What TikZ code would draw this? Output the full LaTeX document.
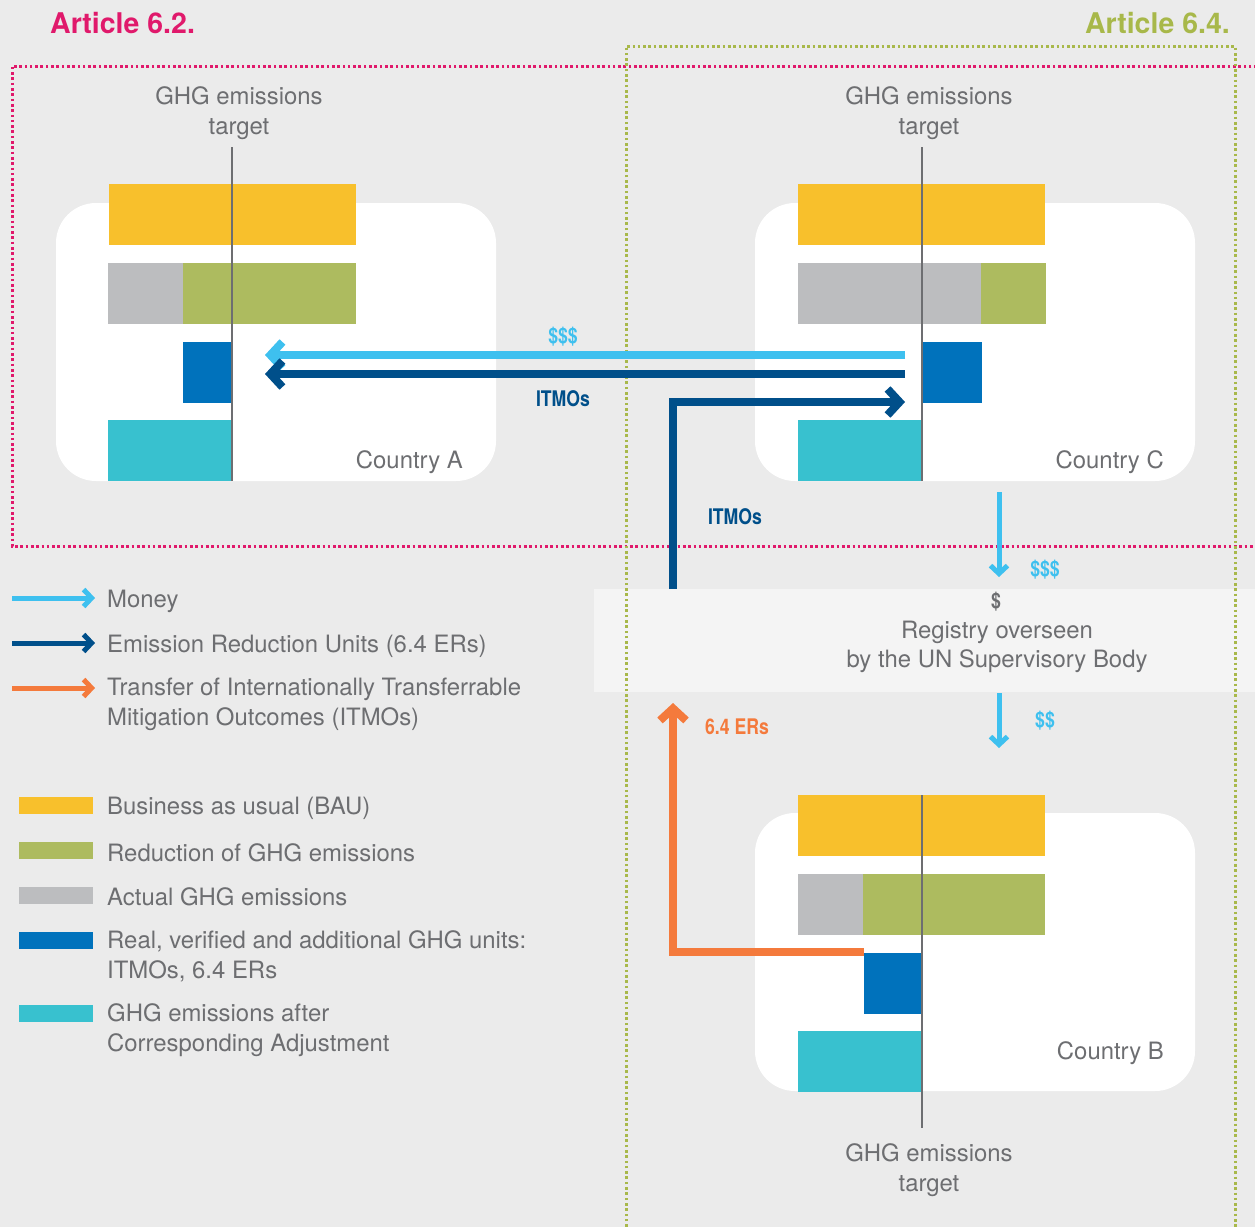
\documentclass[tikz,border=0pt]{standalone}
\usepackage{fontspec}
\setmainfont{TeX Gyre Heros}
\newfontfamily\condfont[FakeStretch=0.82]{TeX Gyre Heros}
\usetikzlibrary{arrows.meta}
\definecolor{bgc}{HTML}{EBEBEB}
\definecolor{regc}{HTML}{F4F4F4}
\definecolor{txtc}{HTML}{6D6E71}
\definecolor{yelc}{HTML}{F8C02C}
\definecolor{grnc}{HTML}{ADBB5F}
\definecolor{gryc}{HTML}{BCBDBF}
\definecolor{bluc}{HTML}{0072BC}
\definecolor{cyac}{HTML}{38C1CF}
\definecolor{monc}{HTML}{3EC0EF}
\definecolor{drkc}{HTML}{004F8A}
\definecolor{orac}{HTML}{F47A3C}
\definecolor{magc}{HTML}{E0196B}
\definecolor{artgc}{HTML}{A8B84A}
\definecolor{tgtc}{HTML}{6D6E71}
\tikzset{
  panel/.style={fill=white, rounded corners=40pt, inner sep=0pt, minimum width=440pt, minimum height=278pt},
  lbl/.style={text=txtc, font=\fontsize{23.9}{29.5}\selectfont, inner sep=0pt, align=center},
  leg/.style={text=txtc, font=\fontsize{23.9}{29.5}\selectfont, inner sep=0pt, align=left, anchor=west},
  cnd/.style={font=\condfont\bfseries\fontsize{21.5}{25}\selectfont, inner sep=0pt},
  bigarrow/.style={line width=8pt, -{Straight Barb[sharp,length=12pt,width=26pt]}},
  smallarrow/.style={line width=5pt, -{Straight Barb[sharp,length=8pt,width=17pt]}},
  tgtline/.style={draw=tgtc, line width=2.8pt},
  pinkdot/.style={draw=magc, line width=3pt, dash pattern=on 2.6pt off 2.7pt},
  greendot/.style={draw=artgc, line width=3pt, dash pattern=on 2.6pt off 2.7pt},
}
\begin{document}
\begin{tikzpicture}[x=1pt,y=-1pt]
\useasboundingbox (0,0) rectangle (1255,1227);
\fill[bgc] (0,0) rectangle (1255,1227);

% registry band
\node[fill=regc, inner sep=0pt, minimum width=661pt, minimum height=103pt] (reg) at (924.5,640.5) {};

% panels
\node[panel] (pa) at (276,342) {};
\node[panel] (pc) at (975,342) {};
\node[panel] (pb) at (975,952) {};

% Country A bars
\fill[yelc] (109,184) rectangle (356,245);
\fill[gryc] (108,263) rectangle (183,324);
\fill[grnc] (183,263) rectangle (356,324);
\fill[bluc] (183,342) rectangle (232,403);
\fill[cyac] (108,420) rectangle (232,481);
% Country C bars
\fill[yelc] (798,184) rectangle (1045,245);
\fill[gryc] (798,263) rectangle (981,324);
\fill[grnc] (981,263) rectangle (1046,324);
\fill[bluc] (922,342) rectangle (982,403);
\fill[cyac] (798,420) rectangle (922,481);
% Country B bars
\fill[yelc] (798,795) rectangle (1045,856);
\fill[gryc] (798,874) rectangle (863,935);
\fill[grnc] (863,874) rectangle (1045,935);
\fill[bluc] (864,953) rectangle (921,1014);
\fill[cyac] (798,1031) rectangle (921,1092);

% target lines
\coordinate (tA1) at (232,147); \coordinate (tA2) at (232,481);
\coordinate (tC1) at (922,147); \coordinate (tC2) at (922,481);
\coordinate (tB1) at (922,795); \coordinate (tB2) at (922,1128);
\draw[tgtline] (tA1) -- (tA2);
\draw[tgtline] (tC1) -- (tC2);
\draw[tgtline] (tB1) -- (tB2);

% dotted frames
\draw[pinkdot] (1262,66) -- (12,66) -- (12,546) -- (1262,546);
\draw[greendot] (626,1232) -- (626,46) -- (1235,46) -- (1235,1232);

% arrows
\coordinate (mC) at (905,355); \coordinate (mA) at (265,355);
\coordinate (iC) at (905,374); \coordinate (iA) at (265,374);
\draw[bigarrow, draw=monc] (mC) -- (mA);
\draw[bigarrow, draw=drkc] (iC) -- (iA);
\coordinate (rI) at (673,589); \coordinate (cI) at (905,402);
\draw[bigarrow, draw=drkc] (rI) |- (cI);
\coordinate (bO) at (864,952); \coordinate (rO) at (673,703);
\draw[bigarrow, draw=orac] (bO) -| (rO);
\coordinate (cM) at (999,492); \coordinate (rM1) at (999,577);
\draw[smallarrow, draw=monc] (cM) -- (rM1);
\coordinate (rM2) at (999,693); \coordinate (bM) at (999,748);
\draw[smallarrow, draw=monc] (rM2) -- (bM);

% titles
\node[anchor=west, inner sep=0pt, text=magc, font=\bfseries\fontsize{28.5}{32}\selectfont] (t62) at (50,23) {Article 6.2.};
\node[anchor=east, inner sep=0pt, text=artgc, font=\bfseries\fontsize{28.5}{32}\selectfont] (t64) at (1230,23) {Article 6.4.};

% labels
\node[lbl] (gA) at (239,113) {GHG emissions\\target};
\node[lbl] (gC) at (929,113) {GHG emissions\\target};
\node[lbl] (gB) at (929,1170) {GHG emissions\\target};
\node[lbl, anchor=east] (cA) at (463,462) {Country A};
\node[lbl, anchor=east] (cC) at (1164,462) {Country C};
\node[lbl, anchor=east] (cB) at (1164,1053) {Country B};
\node[lbl] (regt) at (997,647) {Registry overseen\\by the UN Supervisory Body};
\node[cnd, text=txtc] (dol) at (996,602) {\$};

\node[cnd, text=monc] (l1) at (563,337) {\$\$\$};
\node[cnd, text=drkc] (l2) at (563,399) {ITMOs};
\node[cnd, text=drkc] (l3) at (735,517) {ITMOs};
\node[cnd, text=monc] (l4) at (1045,570) {\$\$\$};
\node[cnd, text=monc] (l5) at (1045,721) {\$\$};
\node[cnd, text=orac] (l6) at (737,727) {6.4 ERs};

% legend arrows
\coordinate (la1) at (12,598); \coordinate (lb1) at (95,598);
\coordinate (la2) at (12,643); \coordinate (lb2) at (95,643);
\coordinate (la3) at (12,688); \coordinate (lb3) at (95,688);
\draw[smallarrow, draw=monc] (la1) -- (lb1);
\draw[smallarrow, draw=drkc] (la2) -- (lb2);
\draw[smallarrow, draw=orac] (la3) -- (lb3);
\node[leg] (lg1) at (107,601) {Money};
\node[leg] (lg2) at (107,646) {Emission Reduction Units (6.4 ERs)};
\node[leg] (lg3) at (107,704.5) {Transfer of Internationally Transferrable\\Mitigation Outcomes (ITMOs)};

% legend swatches
\fill[yelc] (19,797) rectangle (93,814);
\fill[grnc] (19,842) rectangle (93,859);
\fill[gryc] (19,887) rectangle (93,904);
\fill[bluc] (19,932) rectangle (93,949);
\fill[cyac] (19,1005) rectangle (93,1022);
\node[leg] (s1) at (107,808) {Business as usual (BAU)};
\node[leg] (s2) at (107,853) {Reduction of GHG emissions};
\node[leg] (s3) at (107,897) {Actual GHG emissions};
\node[leg] (s4) at (107,956.5) {Real, verified and additional GHG units:\\ITMOs, 6.4 ERs};
\node[leg] (s5) at (107,1030) {GHG emissions after\\Corresponding Adjustment};
\end{tikzpicture}
\end{document}
